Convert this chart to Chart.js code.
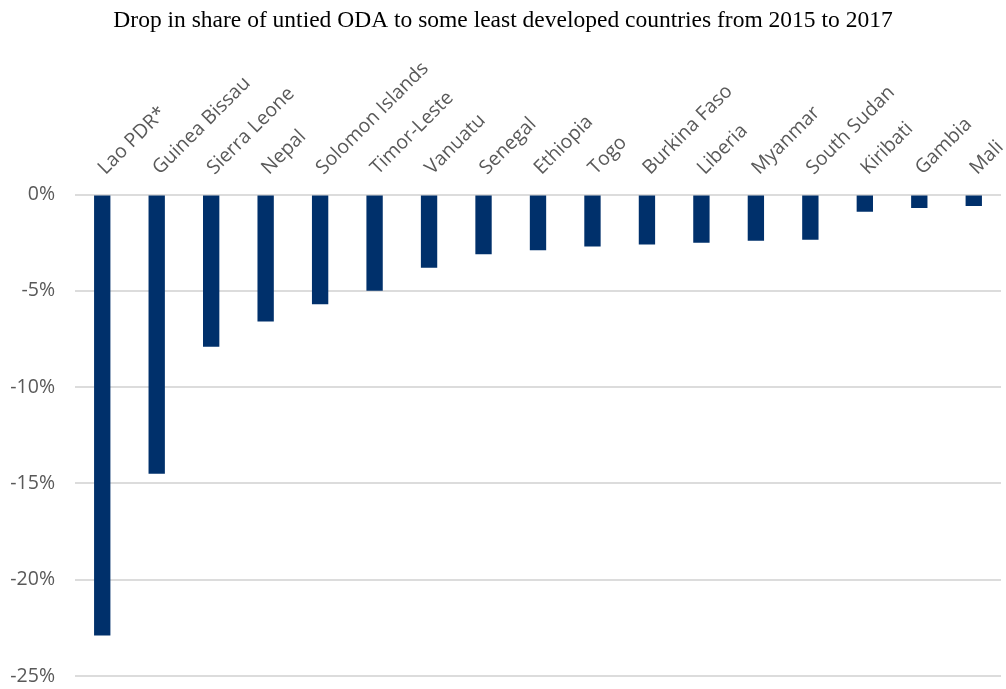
<!DOCTYPE html>
<html>
<head>
<meta charset="utf-8">
<script src="https://cdn.jsdelivr.net/npm/chart.js@4"></script>
<style>
  html, body { margin: 0; padding: 0; background: #fff; }
  #wrap { width: 1006px; height: 689px; }
</style>
</head>
<body>
<div id="wrap"><canvas id="odaChart"></canvas></div>
<script>
const countries = ['Lao PDR*', 'Guinea Bissau', 'Sierra Leone', 'Nepal', 'Solomon Islands', 'Timor-Leste',
    'Vanuatu', 'Senegal', 'Ethiopia', 'Togo', 'Burkina Faso', 'Liberia', 'Myanmar', 'South Sudan',
    'Kiribati', 'Gambia', 'Mali'];
const shareDrop = [-22.9, -14.5, -7.9, -6.6, -5.7, -5.0, -3.8, -3.1, -2.9, -2.7, -2.6, -2.5, -2.4, -2.35,
    -0.9, -0.7, -0.6];
const yTicks = { min: -25, max: 0, step: 5 };

const ctx = document.getElementById('odaChart').getContext('2d');
const odaChart = new Chart(ctx, {
    type: 'bar',
    data: {
        labels: countries,
        datasets: [{
            label: 'Drop in share of untied ODA',
            data: shareDrop,
            backgroundColor: '#00306b',
            barPercentage: 0.3,
            categoryPercentage: 1.0
        }]
    },
    options: {
        responsive: true,
        maintainAspectRatio: false,
        animation: false,
        layout: { padding: { top: 0, right: 5, bottom: 13, left: 5 } },
        plugins: {
            legend: { display: false },
            tooltip: { enabled: false },
            title: {
                display: true,
                text: 'Drop in share of untied ODA to some least developed countries from 2015 to 2017',
                color: '#000',
                font: { family: 'Liberation Serif', size: 23.5, weight: 'normal' },
                padding: { top: 7, bottom: 15 }
            }
        },
        scales: {
            x: {
                position: 'top',
                grid: { display: false },
                border: { display: false },
                // let the last label run off the edge like the original
                afterFit: s => { s.paddingRight = 0; s.paddingLeft = 0; },
                ticks: {
                    autoSkip: false,
                    minRotation: 45,
                    maxRotation: 45,
                    padding: 7,
                    labelOffset: 16,
                    color: '#595959',
                    font: { family: 'Open Sans', size: 19.5 }
                }
            },
            y: {
                min: yTicks.min,
                max: yTicks.max,
                grid: { color: '#dcdcdc', lineWidth: 2, drawTicks: false },
                border: { display: false },
                afterFit: s => { s.width = 70; s.paddingTop = 0; s.paddingBottom = 0; },
                ticks: {
                    stepSize: yTicks.step,
                    padding: 20,
                    color: '#595959',
                    font: { family: 'Open Sans', size: 19.5 },
                    callback: v => v + '%'
                }
            }
        }
    }
});
</script>
</body>
</html>
